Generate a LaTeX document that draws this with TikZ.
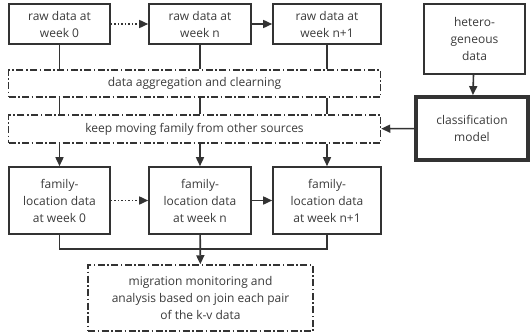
\documentclass[tikz,border=0pt]{standalone}
\usepackage{fontspec}
\setmainfont{Open Sans}
\usetikzlibrary{arrows.meta}
\definecolor{linegray}{HTML}{333333}
\definecolor{textgray}{HTML}{3A3A3A}
\begin{document}
\begin{tikzpicture}[
        x=1pt, y=-1pt,
        font=\fontsize{12}{17}\selectfont,
        databox/.style={draw=linegray, line width=1.6pt, align=center, text=textgray, inner sep=0pt},
        stagebox/.style={draw=linegray, line width=1.5pt, align=center, text=textgray, inner sep=0pt,
            dash pattern=on 7pt off 2.5pt on 1.5pt off 2.5pt},
        modelbox/.style={draw=linegray, line width=3.8pt, align=center, text=textgray, inner sep=0pt},
        flow/.style={draw=linegray, line width=1.6pt},
        flow arrow/.style={flow, -{Triangle[length=9pt,width=8pt]}},
        dotted arrow/.style={flow arrow, dash pattern=on 1.5pt off 2pt},
    ]
	\useasboundingbox (0,0) rectangle (531,335);
	% raw data row
	\node[databox, minimum width=101pt, minimum height=40pt] (raw_0) at (59.5,24) {raw data at\\week 0};
	\node[databox, minimum width=102pt, minimum height=40pt] (raw_n) at (200,24) {raw data at\\week n};
	\node[databox, minimum width=108pt, minimum height=40pt] (raw_n1) at (327,24) {raw data at\\week n+1};
	\node[databox, minimum width=101pt, minimum height=70pt] (hetero) at (474.5,39) {hetero-\\geneous\\data};
	% processing stages
	\node[stagebox, minimum width=372pt, minimum height=27pt] (aggregate) at (194.5,83.5) {data aggregation and clearning};
	\node[stagebox, minimum width=372pt, minimum height=28pt] (keep) at (194.5,129) {keep moving family from other sources};
	\node[modelbox, minimum width=112pt, minimum height=63pt] (model) at (472,128.5) {classification\\model};
	% family-location row
	\node[databox, minimum width=101pt, minimum height=67pt] (fam_0) at (59.5,200.5) {family-\\location data\\at week 0};
	\node[databox, minimum width=102pt, minimum height=67pt] (fam_n) at (200,200.5) {family-\\location data\\at week n};
	\node[databox, minimum width=108pt, minimum height=67pt] (fam_n1) at (327,200.5) {family-\\location data\\at week n+1};
	\node[stagebox, minimum width=225pt, minimum height=66pt] (migration) at (200.5,298) {migration monitoring and\\analysis based on join each pair\\of the k-v data};
	\coordinate (join) at (200,249);
	% connectors
	\draw[dotted arrow] (raw_0) -- (raw_n);
	\draw[flow arrow] (raw_n) -- (raw_n1);
	\draw[dotted arrow] (fam_0) -- (fam_n);
	\draw[flow arrow] (fam_n) -- (fam_n1);
	\draw[flow] (raw_0) -- (raw_0 |- aggregate.north);
	\draw[flow] (raw_n) -- (raw_n |- aggregate.north);
	\draw[flow] (raw_n1) -- (raw_n1 |- aggregate.north);
	\draw[flow] (raw_0 |- aggregate.south) -- (raw_0 |- keep.north);
	\draw[flow] (raw_n |- aggregate.south) -- (raw_n |- keep.north);
	\draw[flow] (raw_n1 |- aggregate.south) -- (raw_n1 |- keep.north);
	\draw[flow arrow] (fam_0 |- keep.south) -- (fam_0);
	\draw[flow arrow] (fam_n |- keep.south) -- (fam_n);
	\draw[flow arrow] (fam_n1 |- keep.south) -- (fam_n1);
	\draw[flow arrow] (hetero) -- (model);
	\draw[flow arrow] (model) -- (keep);
	\draw[flow] (fam_0) -- (fam_0 |- join) -- (fam_n1 |- join) -- (fam_n1);
	\draw[flow arrow] (fam_n) -- (migration);
\end{tikzpicture}
\end{document}
